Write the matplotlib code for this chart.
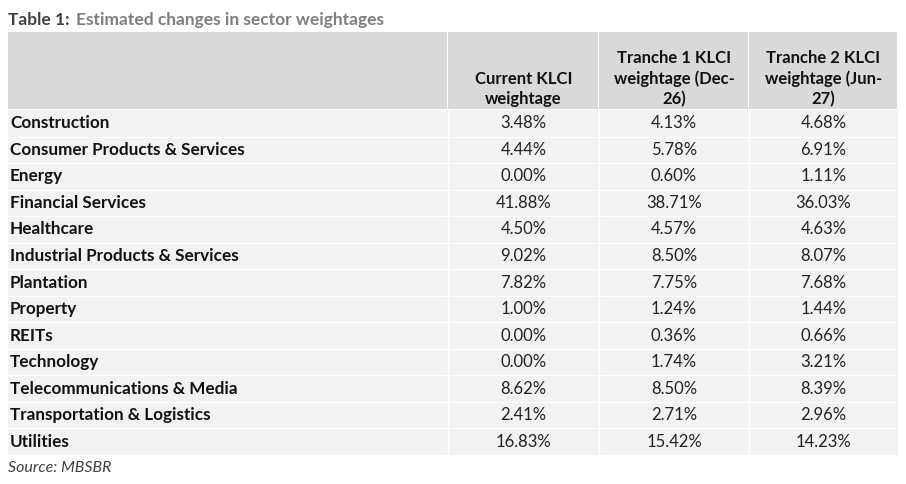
import matplotlib.pyplot as plt
from matplotlib.patches import Rectangle

# --- DATA ---
sectors = ["Construction", "Consumer Products & Services", "Energy", "Financial Services",
           "Healthcare", "Industrial Products & Services", "Plantation", "Property", "REITs",
           "Technology", "Telecommunications & Media", "Transportation & Logistics", "Utilities"]
current = [3.48, 4.44, 0.00, 41.88, 4.50, 9.02, 7.82, 1.00, 0.00, 0.00, 8.62, 2.41, 16.83]
tranche1 = [4.13, 5.78, 0.60, 38.71, 4.57, 8.50, 7.75, 1.24, 0.36, 1.74, 8.50, 2.71, 15.42]
tranche2 = [4.68, 6.91, 1.11, 36.03, 4.63, 8.07, 7.68, 1.44, 0.66, 3.21, 8.39, 2.96, 14.23]
headers = ["Current KLCI\nweightage", "Tranche 1 KLCI\nweightage (Dec-\n26)",
           "Tranche 2 KLCI\nweightage (Jun-\n27)"]

W, H = 906, 484
plt.rcParams['font.family'] = ['Lato', 'DejaVu Sans']
fig = plt.figure(figsize=(W / 100, H / 100), dpi=100)
ax = fig.add_axes([0, 0, 1, 1])
ax.set_xlim(0, W)
ax.set_ylim(H, 0)
ax.axis('off')

cols = [8, 448, 599, 749, 898]
head_top, head_bot = 32, 109
row_h = (455 - 110) / len(sectors)

# title
ax.text(8, 20, "Table 1:", fontsize=12.5, fontweight='bold', color='#404040', va='center')
ax.text(76, 20, "Estimated changes in sector weightages", fontsize=12.5, fontweight='bold',
        color='#7f7f7f', va='center')

# header
for i in range(4):
    ax.add_patch(Rectangle((cols[i], head_top), cols[i + 1] - cols[i] - 1.5,
                           head_bot - head_top, color='#d9d9d9', lw=0))
for i, h in enumerate(headers):
    cx = (cols[i + 1] + cols[i + 2]) / 2
    ax.text(cx, head_bot - 2, h, ha='center', va='bottom', fontsize=12, fontweight='bold',
            color='#111111', linespacing=1.3)

# body
top = head_bot + 1
ax.add_patch(Rectangle((cols[0], top), cols[-1] - cols[0], row_h * len(sectors),
                       color='#f2f2f2', lw=0))
for r in range(1, len(sectors)):
    y = top + r * row_h
    ax.plot([cols[0], cols[-1]], [y, y], color='white', lw=0.8)
for i in range(1, 4):
    ax.plot([cols[i], cols[i]], [top, top + row_h * len(sectors)], color='white', lw=1)

for r, name in enumerate(sectors):
    yc = top + (r + 0.5) * row_h
    ax.text(cols[0] + 2, yc, name, ha='left', va='center', fontsize=12.3, fontweight='bold',
            color='#111111')
    for i, vals in enumerate([current, tranche1, tranche2]):
        cx = (cols[i + 1] + cols[i + 2]) / 2
        ax.text(cx, yc, f"{vals[r]:.2f}%", ha='center', va='center', fontsize=12, color='#222222')

ax.text(8, 468, "Source: MBSBR", fontsize=11.5, style='italic', color='#404040', va='center')

fig.savefig("out.png", dpi=100)
